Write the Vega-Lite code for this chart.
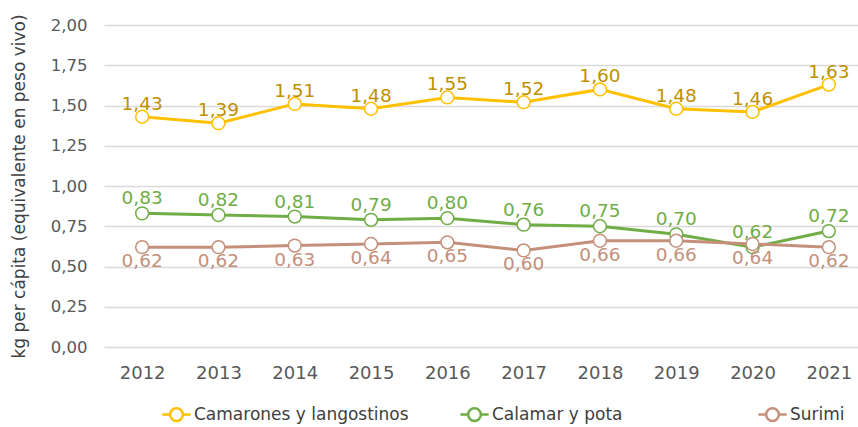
{
  "$schema": "https://vega.github.io/schema/vega-lite/v6.json",
  "width": 763,
  "height": 322,
  "autosize": "none",
  "padding": {"left": 104, "top": 25, "right": 0, "bottom": 80},
  "background": "white",
  "config": {
    "locale": {"number": {"decimal": ",", "thousands": ".", "grouping": [3], "currency": ["", " €"]}},
    "font": "DejaVu Sans",
    "view": {"stroke": null}
  },
  "data": {
    "values": [
      {"year": "2012", "series": "Camarones y langostinos", "value": 1.43},
      {"year": "2013", "series": "Camarones y langostinos", "value": 1.39},
      {"year": "2014", "series": "Camarones y langostinos", "value": 1.51},
      {"year": "2015", "series": "Camarones y langostinos", "value": 1.48},
      {"year": "2016", "series": "Camarones y langostinos", "value": 1.55},
      {"year": "2017", "series": "Camarones y langostinos", "value": 1.52},
      {"year": "2018", "series": "Camarones y langostinos", "value": 1.60},
      {"year": "2019", "series": "Camarones y langostinos", "value": 1.48},
      {"year": "2020", "series": "Camarones y langostinos", "value": 1.46},
      {"year": "2021", "series": "Camarones y langostinos", "value": 1.63},
      {"year": "2012", "series": "Calamar y pota", "value": 0.83},
      {"year": "2013", "series": "Calamar y pota", "value": 0.82},
      {"year": "2014", "series": "Calamar y pota", "value": 0.81},
      {"year": "2015", "series": "Calamar y pota", "value": 0.79},
      {"year": "2016", "series": "Calamar y pota", "value": 0.80},
      {"year": "2017", "series": "Calamar y pota", "value": 0.76},
      {"year": "2018", "series": "Calamar y pota", "value": 0.75},
      {"year": "2019", "series": "Calamar y pota", "value": 0.70},
      {"year": "2020", "series": "Calamar y pota", "value": 0.62},
      {"year": "2021", "series": "Calamar y pota", "value": 0.72},
      {"year": "2012", "series": "Surimi", "value": 0.62},
      {"year": "2013", "series": "Surimi", "value": 0.62},
      {"year": "2014", "series": "Surimi", "value": 0.63},
      {"year": "2015", "series": "Surimi", "value": 0.64},
      {"year": "2016", "series": "Surimi", "value": 0.65},
      {"year": "2017", "series": "Surimi", "value": 0.60},
      {"year": "2018", "series": "Surimi", "value": 0.66},
      {"year": "2019", "series": "Surimi", "value": 0.66},
      {"year": "2020", "series": "Surimi", "value": 0.64},
      {"year": "2021", "series": "Surimi", "value": 0.62}
    ]
  },
  "encoding": {
    "x": {
      "field": "year", "type": "ordinal",
      "scale": {"type": "point", "padding": 0.5},
      "axis": {"title": null, "labelAngle": 0, "domain": false, "ticks": false, "labelPadding": 17, "labelFontSize": 18, "labelColor": "#595959", "grid": false}
    },
    "y": {
      "field": "value", "type": "quantitative",
      "scale": {"domain": [0, 2], "nice": false, "zero": true},
      "axis": {"title": "kg per cápita (equivalente en peso vivo)", "titleFontSize": 17, "titleFontWeight": "normal", "titleColor": "#404040", "titlePadding": 22,
        "values": [0, 0.25, 0.5, 0.75, 1, 1.25, 1.5, 1.75, 2], "format": ".2f",
        "labelFontSize": 16.5, "labelColor": "#595959", "labelPadding": 17, "domain": false, "ticks": false,
        "gridColor": "#D9D9D9", "gridWidth": 1.5}
    }
  },
  "layer": [
    {
      "layer": [
        {
          "mark": {"type": "line", "strokeWidth": 3},
          "encoding": {
            "color": {
              "field": "series", "type": "nominal",
              "scale": {"domain": ["Camarones y langostinos", "Calamar y pota", "Surimi"], "range": ["#FFC000", "#70AD47", "#C4907A"]},
              "legend": {
                "title": null, "orient": "none", "legendX": 57, "legendY": 374, "direction": "horizontal",
                "symbolType": "M-1,0H-0.45A0.45,0.45 0 1,1 0.45,0A0.45,0.45 0 1,1 -0.45,0M0.45,0H1",
                "symbolSize": 800, "symbolStrokeWidth": 2.5, "symbolFillColor": "white",
                "labelFontSize": 17, "labelColor": "#404040", "labelOffset": 2, "labelLimit": 400,
                "gridAlign": "all", "columnPadding": 46,
                "encode": {"symbols": {"update": {"fill": {"value": "white"}, "fillOpacity": {"value": 1}}}}
              }
            }
          }
        },
        {
          "mark": {"type": "point", "filled": false, "fill": "white", "fillOpacity": 1, "size": 165, "strokeWidth": 1.5, "opacity": 1},
          "encoding": {
            "color": {"field": "series", "type": "nominal"}
          }
        }
      ]
    },
    {
      "layer": [
        {
          "transform": [{"filter": "datum.series === 'Camarones y langostinos'"}],
          "mark": {"type": "text", "dy": -13, "fontSize": 18.5},
          "encoding": {
            "text": {"field": "value", "type": "quantitative", "format": ".2f"},
            "color": {"field": "series", "type": "nominal",
              "scale": {"domain": ["Camarones y langostinos", "Calamar y pota", "Surimi"], "range": ["#BF9000", "#70AD47", "#C4907A"]},
              "legend": null}
          }
        },
        {
          "transform": [{"filter": "datum.series === 'Calamar y pota'"}],
          "mark": {"type": "text", "dy": -15, "fontSize": 18.5},
          "encoding": {
            "text": {"field": "value", "type": "quantitative", "format": ".2f"},
            "color": {"field": "series", "type": "nominal", "legend": null}
          }
        },
        {
          "transform": [{"filter": "datum.series === 'Surimi'"}],
          "mark": {"type": "text", "dy": 14, "fontSize": 18.5},
          "encoding": {
            "text": {"field": "value", "type": "quantitative", "format": ".2f"},
            "color": {"field": "series", "type": "nominal", "legend": null}
          }
        }
      ]
    }
  ],
  "resolve": {"scale": {"color": "independent"}, "legend": {"color": "independent"}}
}
